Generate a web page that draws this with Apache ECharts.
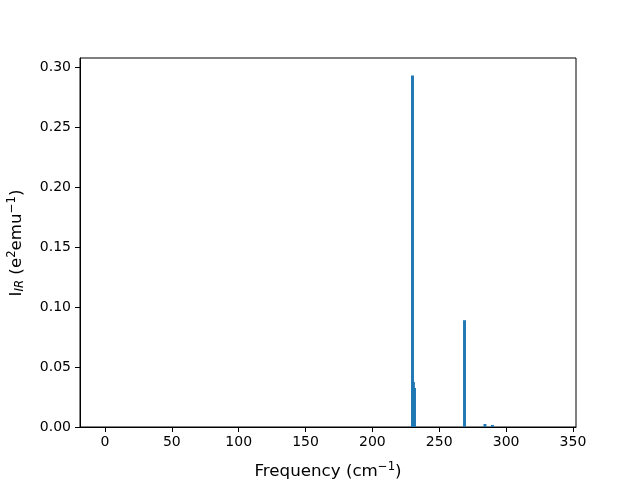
<!DOCTYPE html>
<html>
<head>
<meta charset="utf-8">
<script src="https://cdn.jsdelivr.net/npm/echarts@6/dist/echarts.min.js"></script>
<style>html,body{margin:0;padding:0;background:#fff}#c{width:640px;height:480px}</style>
</head>
<body>
<div id="c"></div>
<script>
// Data
const frequencies = [230.0, 230.7, 231.5, 268.9, 284.2, 289.8];
const intensities = [0.293, 0.0375, 0.0325, 0.089, 0.0025, 0.0017];
const xTicks = [0, 50, 100, 150, 200, 250, 300, 350];
const yTicks = [0, 0.05, 0.10, 0.15, 0.20, 0.25, 0.30];
const barWidthUnits = 2.2;

const chart = echarts.init(document.getElementById('c'), null, {renderer: 'canvas'});
const font = '"DejaVu Sans", sans-serif';
const data = frequencies.map((f, i) => [f, intensities[i]]);

chart.setOption({
  animation: false,
  backgroundColor: '#fff',
  grid: {left: 80, right: 64, top: 58, bottom: 53, show: true, borderColor: '#000', borderWidth: 1, backgroundColor: 'transparent'},
  xAxis: {
    type: 'value', min: -18.7, max: 352.3,
    splitLine: {show: false},
    axisLine: {show: true, onZero: false, lineStyle: {color: '#000', width: 1}},
    axisTick: {show: true, inside: false, length: 5, lineStyle: {color: '#000', width: 1}, customValues: xTicks},
    axisLabel: {color: '#000', fontSize: 14, fontFamily: font, margin: 8, customValues: xTicks, formatter: v => String(v)}
  },
  yAxis: {
    type: 'value', min: 0, max: 0.3075,
    splitLine: {show: false},
    axisLine: {show: true, onZero: false, lineStyle: {color: '#000', width: 1}},
    axisTick: {show: true, inside: false, length: 5, lineStyle: {color: '#000', width: 1}, customValues: yTicks},
    axisLabel: {color: '#000', fontSize: 14, fontFamily: font, margin: 9, customValues: yTicks, formatter: v => v.toFixed(2)}
  },
  series: [{
    type: 'custom',
    data: data,
    encode: {x: 0, y: 1},
    renderItem: function (params, api) {
      const x = api.value(0), h = api.value(1);
      const p1 = api.coord([x - barWidthUnits / 2, h]);
      const p2 = api.coord([x + barWidthUnits / 2, 0]);
      return {
        type: 'rect',
        shape: {x: p1[0], y: p1[1], width: p2[0] - p1[0], height: p2[1] - p1[1]},
        style: {fill: '#1f77b4'}
      };
    }
  }],
  graphic: [
    {
      type: 'text', x: 328, y: 461,
      style: {
        text: '{n|Frequency (cm}{s|−1}{n|)}',
        align: 'center', verticalAlign: 'top',
        rich: {
          n: {fontSize: 16.7, fontFamily: font, color: '#000'},
          s: {fontSize: 11.7, fontFamily: font, color: '#000', padding: [0, 0, 9, 0]}
        }
      }
    },
    {
      type: 'text', x: 6, y: 243, rotation: Math.PI / 2,
      style: {
        text: '{n|I}{sub|IR}{n| (e}{s|2}{n|emu}{s|−1}{n|)}',
        align: 'center', verticalAlign: 'top',
        rich: {
          n: {fontSize: 16.7, fontFamily: font, color: '#000'},
          sub: {fontSize: 11.7, fontFamily: font, fontStyle: 'italic', color: '#000', padding: [7, 0, 0, 0]},
          s: {fontSize: 11.7, fontFamily: font, color: '#000', padding: [0, 0, 9, 0]}
        }
      }
    }
  ]
});
</script>
</body>
</html>
